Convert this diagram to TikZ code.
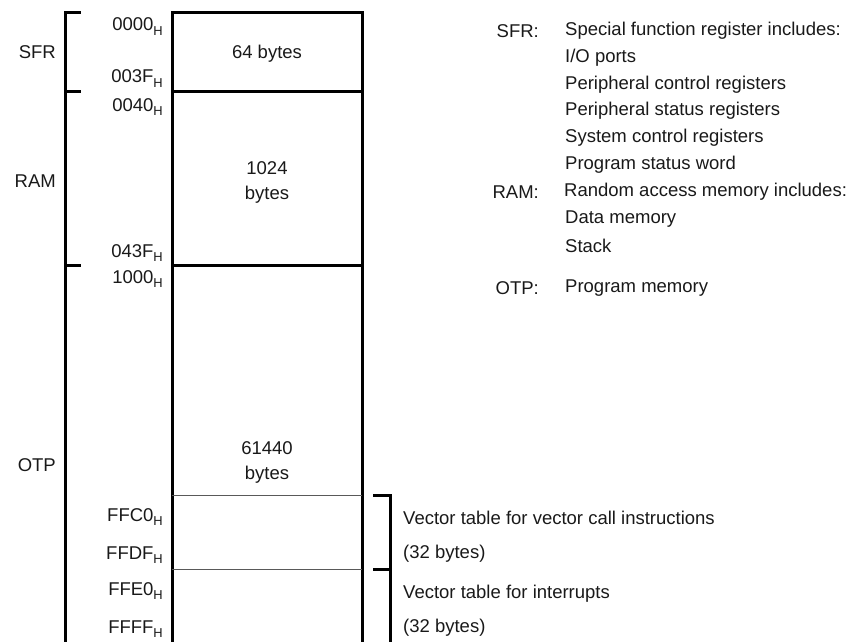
\documentclass[tikz,border=0pt]{standalone}
\usepackage{fontspec}
\setmainfont{Liberation Sans}
\newcommand\hexaddr[1]{#1\raisebox{-4.5pt}{\fontsize{12.9}{13}\selectfont H}}
\begin{document}
\begin{tikzpicture}[x=1pt,y=-1pt,
  heavy/.style={line width=3pt, line cap=rect},
  light/.style={line width=1pt, draw=black!65},
  txt/.style={font=\fontsize{18.5}{22}\selectfont, inner sep=0pt, text=black!90},
  lw/.style={txt, anchor=base west},
  le/.style={txt, anchor=base east},
  lc/.style={txt, anchor=base}]
\useasboundingbox (0,0) rectangle (849,642);
% main box
\draw[heavy] (172,660) -- (172,13) -- (362,13) -- (362,660);
\draw[heavy] (172,92) -- (362,92);
\draw[heavy] (172,265) -- (362,265);
\draw[light] (172,495) -- (362,495);
\draw[light] (172,569) -- (362,569);
% left bracket
\draw[heavy] (79,13) -- (65,13) -- (65,660);
\draw[heavy] (65,92) -- (79,92);
\draw[heavy] (65,265) -- (79,265);
% right bracket
\draw[heavy] (374,495) -- (390,495) -- (390,660);
\draw[heavy] (374,569) -- (390,569);
% left labels
\node[le] (lsfr) at (56,59) {SFR};
\node[le] (lram) at (56,187) {RAM};
\node[le] (lotp) at (56,471) {OTP};
% addresses
\node[le] (a1) at (163,31) {\hexaddr{0000}};
\node[le] (a2) at (163,83) {\hexaddr{003F}};
\node[le] (a3) at (163,111) {\hexaddr{0040}};
\node[le] (a4) at (163,257) {\hexaddr{043F}};
\node[le] (a5) at (163,283) {\hexaddr{1000}};
\node[le] (a6) at (163,521) {\hexaddr{FFC0}};
\node[le] (a7) at (163,559) {\hexaddr{FFDF}};
\node[le] (a8) at (163,595) {\hexaddr{FFE0}};
\node[le] (a9) at (163,633) {\hexaddr{FFFF}};
% box contents
\node[lc] (b1) at (267,59) {64 bytes};
\node[lc] (b2) at (267,174) {1024};
\node[lc] (b3) at (267,199) {bytes};
\node[lc] (b4) at (267,454) {61440};
\node[lc] (b5) at (267,479) {bytes};
% vector texts
\node[lw] (v1) at (403,524) {Vector table for vector call instructions};
\node[lw] (v2) at (403,558) {(32 bytes)};
\node[lw] (v3) at (403,598) {Vector table for interrupts};
\node[lw] (v4) at (403,632) {(32 bytes)};
% legend
\node[le] (k1) at (539,38) {SFR:};
\node[lw] (t1) at (565,36) {Special function register includes:};
\node[lw] (t2) at (565,63) {I/O ports};
\node[lw] (t3) at (565,89.5) {Peripheral control registers};
\node[lw] (t4) at (565,115) {Peripheral status registers};
\node[lw] (t5) at (565,142) {System control registers};
\node[lw] (t6) at (565,169.5) {Program status word};
\node[le] (k2) at (539,198) {RAM:};
\node[lw] (t7) at (564,196) {Random access memory includes:};
\node[lw] (t8) at (565,223.5) {Data memory};
\node[lw] (t9) at (565,252) {Stack};
\node[le] (k3) at (539,294) {OTP:};
\node[lw] (t10) at (565,292) {Program memory};
\end{tikzpicture}
\end{document}
